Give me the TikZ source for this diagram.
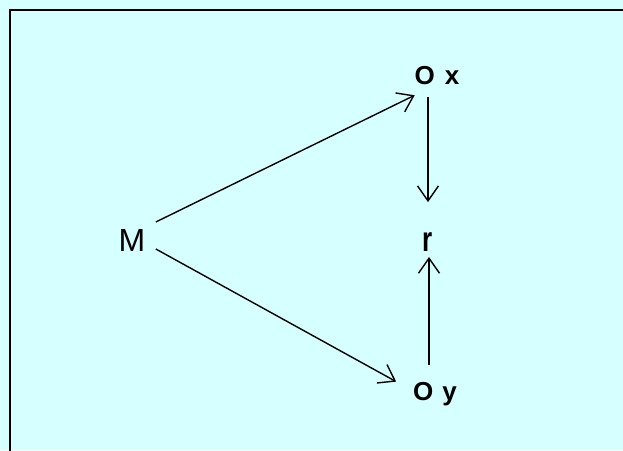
\documentclass[tikz,border=0pt]{standalone}
\usepackage{fontspec}
\setmainfont{Liberation Sans}[BoldFont={Liberation Sans Bold}]
\newfontfamily\labbold{Liberation Sans Bold}
\usetikzlibrary{arrows.meta}
\definecolor{bgcyan}{RGB}{214,255,255}
\newcommand{\bigbold}{\labbold\fontsize{26pt}{31pt}\selectfont}
\begin{document}
\begin{tikzpicture}[x=1pt,y=-1pt,
  lab/.style={inner sep=0pt, outer sep=0pt, anchor=base},
  arr/.style={line width=1.4pt, -{Straight Barb[length=15pt,width=21pt]}}]
\useasboundingbox (0,0) rectangle (623,450);
\fill[bgcyan] (0,0) rectangle (623,450);
\draw[line width=2pt] (10,470) -- (10,10) -- (640,10);
\node[lab, font=\fontsize{32pt}{38pt}\selectfont] (M) at (132,251) {M};
\node[lab] (ox) at (437,84) {\bigbold\spaceskip=10pt O x};
\node[lab] (r) at (428,251) {\bigbold\scalebox{1}[1.35]{r}};
\node[lab] (oy) at (435,400) {\bigbold\spaceskip=9pt O y};
\draw[arr] ([xshift=10.5pt,yshift=18pt]M.east) -- ([xshift=0pt,yshift=-11pt]ox.south west);
\draw[arr] ([xshift=10.5pt,yshift=-9pt]M.east) -- ([xshift=-17pt,yshift=12pt]oy.west);
\draw[arr] ([xshift=-9pt,yshift=-13pt]ox.south) -- ([yshift=30pt]r.north);
\draw[arr] ([xshift=-6pt,yshift=17pt]oy.north) -- ([xshift=1pt,yshift=-6pt]r.south);
\end{tikzpicture}
\end{document}
